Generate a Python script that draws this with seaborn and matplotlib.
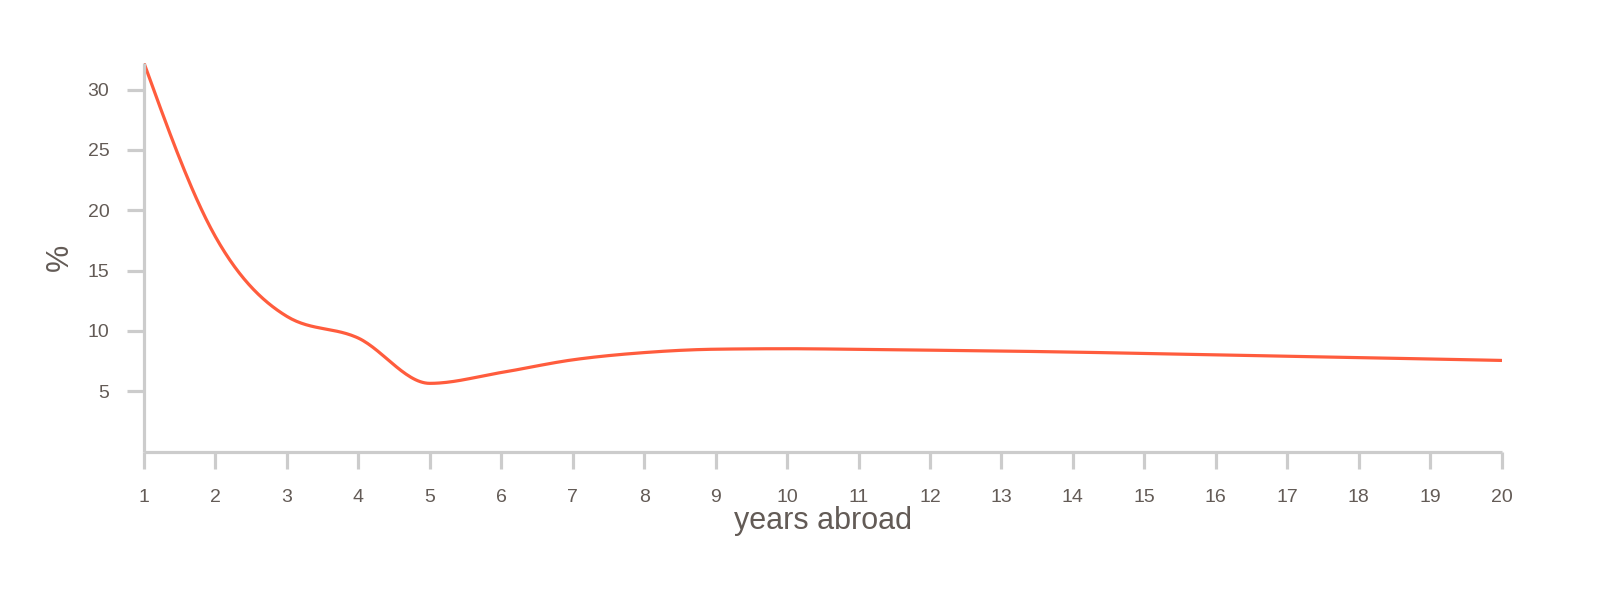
import numpy as np
import pandas as pd
import matplotlib
matplotlib.use("Agg")
import matplotlib.pyplot as plt
import seaborn as sns

# data
years = [1, 2, 3, 4, 5, 6, 7, 8, 9, 10, 11, 12, 13, 14, 15, 16, 17, 18, 19, 20]
pct = [32.2, 17.8, 11.2, 9.4, 5.65, 6.55, 7.6, 8.2, 8.48, 8.52, 8.47, 8.4, 8.33,
       8.24, 8.13, 8.01, 7.9, 7.78, 7.67, 7.55]
y_ticks = [5, 10, 15, 20, 25, 30]

line_color = "#ff5c3d"
axis_color = "#cccccc"
text_color = "#635b56"


def monotone_curve(x, y, steps=30):
    # smooth rendering through the points (like d3 curveMonotoneX)
    x = np.asarray(x, float)
    y = np.asarray(y, float)
    h = np.diff(x)
    d = np.diff(y) / h
    m = np.zeros_like(y)
    for i in range(1, len(y) - 1):
        p = (d[i - 1] * h[i] + d[i] * h[i - 1]) / (h[i - 1] + h[i])
        m[i] = (np.sign(d[i - 1]) + np.sign(d[i])) * min(abs(d[i - 1]), abs(d[i]), 0.5 * abs(p))
    m[0] = (3 * d[0] - m[1]) / 2
    m[-1] = (3 * d[-1] - m[-2]) / 2
    xs, ys = [], []
    for i in range(len(x) - 1):
        t = np.linspace(0, 1, steps, endpoint=(i == len(x) - 2))
        h00 = 2 * t**3 - 3 * t**2 + 1
        h10 = t**3 - 2 * t**2 + t
        h01 = -2 * t**3 + 3 * t**2
        h11 = t**3 - t**2
        xs.append(x[i] + t * h[i])
        ys.append(h00 * y[i] + h10 * h[i] * m[i] + h01 * y[i + 1] + h11 * h[i] * m[i + 1])
    return np.concatenate(xs), np.concatenate(ys)


sx, sy = monotone_curve(years, pct)
df = pd.DataFrame({"years": sx, "pct": sy})

sns.set_style("white")
plt.rcParams["font.family"] = ["Liberation Sans", "DejaVu Sans"]

fig = plt.figure(figsize=(16, 5.9), dpi=100)
ax = fig.add_axes([0.09, 0.2347, 0.8485, 0.6585])

sns.lineplot(data=df, x="years", y="pct", sort=False, estimator=None,
             color=line_color, linewidth=2.3, ax=ax)

ax.set_xlim(1, 20)
ax.set_ylim(0, max(pct))
ax.set_xticks(years)
ax.set_xticklabels([str(v) for v in years])
ax.set_yticks(y_ticks)
ax.set_yticklabels([str(v) for v in y_ticks])

for side in ["top", "right"]:
    ax.spines[side].set_visible(False)
for side in ["left", "bottom"]:
    ax.spines[side].set_color(axis_color)
    ax.spines[side].set_linewidth(2.3)
    ax.spines[side].set_capstyle("butt")

ax.tick_params(axis="both", bottom=True, left=True, colors=axis_color,
               labelcolor=text_color, length=12, width=2.3, labelsize=14)
ax.tick_params(axis="x", pad=15)
ax.tick_params(axis="y", pad=13)

ax.set_xlabel("years abroad", fontsize=22, color=text_color)
ax.set_ylabel("%", fontsize=22, color=text_color)
ax.xaxis.set_label_coords(0.5, -0.14)
ax.yaxis.set_label_coords(-0.051, 0.5)

fig.savefig("out.png", dpi=100)
